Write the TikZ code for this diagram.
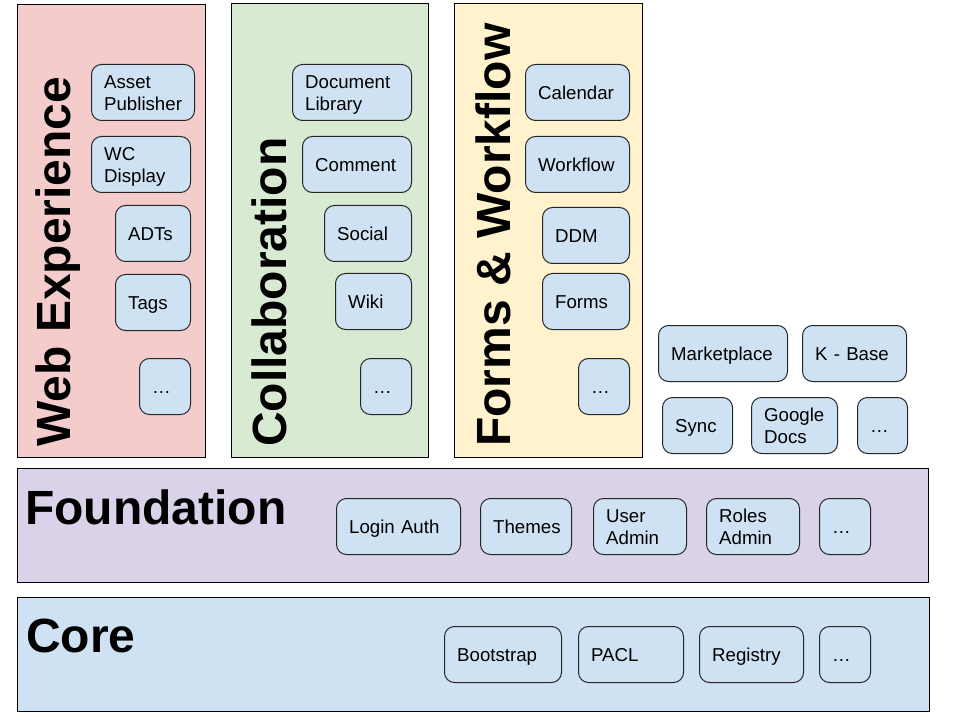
\documentclass[tikz,border=0pt]{standalone}
\usepackage{fontspec}
\setmainfont{Liberation Sans}
\usetikzlibrary{positioning}

\definecolor{webred}{HTML}{F4CCCC}
\definecolor{collgreen}{HTML}{D9EAD3}
\definecolor{formyellow}{HTML}{FFF2CC}
\definecolor{foundpurple}{HTML}{D9D2E9}
\definecolor{coreblue}{HTML}{CFE2F3}

\begin{document}
\begin{tikzpicture}[x=0.75pt,y=-0.75pt,
panel/.style={draw=black, line width=0.75pt},
title/.style={anchor=base west, inner sep=0pt,
  font=\fontsize{36}{40}\selectfont\bfseries},
box/.style={draw=black!85, fill=coreblue, line width=0.75pt,
  rounded corners=7.5pt, anchor=north west, align=left,
  inner xsep=9.5pt, inner ysep=0pt, minimum height=42pt,
  font=\fontsize{14}{16.5}\selectfont,
  execute at begin node={\rule[-4pt]{0pt}{19.2pt}},
  execute at end node={\rule[-4pt]{0pt}{4pt}}},
bw/.style={text width=#1*0.75pt-19pt}]
\useasboundingbox (0,0) rectangle (960,720);
% layers
\draw[panel, fill=webred] (17,5) rectangle (205,457);
\draw[panel, fill=collgreen] (231,4) rectangle (428,457);
\draw[panel, fill=formyellow] (454,4) rectangle (642,457);
\draw[panel, fill=foundpurple] (17,468) rectangle (928,582);
\draw[panel, fill=coreblue] (17,597) rectangle (929,711);
\node[title, rotate=90] (webt) at (70,447) {Web Experience};
\node[title, rotate=90] (collt) at (286,447) {Collaboration};
\node[title, rotate=90] (formt) at (510,447) {Forms \& Workflow};
\node[title] (foundt) at (25,524) {Foundation};
\node[title] (coret) at (26,652) {Core};
% web experience
\node[box, bw=103] (ap) at (91,64) {Asset\\Publisher};
\node[box, bw=99] (wc) at (91,136) {WC\\Display};
\node[box, bw=75] (adt) at (115,205) {ADTs};
\node[box, bw=75] (tags) at (115,274) {Tags};
\node[box, bw=51] (wdots) at (139,358) {…};
% collaboration
\node[box, bw=119] (dl) at (292,64) {Document\\Library};
\node[box, bw=109] (comment) at (302,136) {Comment};
\node[box, bw=87] (social) at (324,205) {Social};
\node[box, bw=76] (wiki) at (335,273) {Wiki};
\node[box, bw=51] (cdots) at (360,358) {…};
% forms & workflow
\node[box, bw=104] (cal) at (525,64) {Calendar};
\node[box, bw=104] (wf) at (525,136) {Workflow};
\node[box, bw=87] (ddm) at (542,207) {DDM};
\node[box, bw=87] (forms) at (542,273) {Forms};
\node[box, bw=51] (fdots) at (578,358) {…};
% others
\node[box, bw=129] (mkt) at (658,325) {Marketplace};
\node[box, bw=104] (kbase) at (802,325) {K - Base};
\node[box, bw=70] (sync) at (662,397) {Sync};
\node[box, bw=86] (gdocs) at (751,397) {Google\\Docs};
\node[box, bw=50] (odots) at (857,397) {…};
% foundation
\node[box, bw=124] (login) at (336,498) {Login Auth};
\node[box, bw=91] (themes) at (480,498) {Themes};
\node[box, bw=93] (uadmin) at (593,498) {User\\Admin};
\node[box, bw=93] (radmin) at (706,498) {Roles\\Admin};
\node[box, bw=51] (ndots) at (819,498) {…};
% core
\node[box, bw=117] (boot) at (444,626) {Bootstrap};
\node[box, bw=105] (pacl) at (578,626) {PACL};
\node[box, bw=104] (reg) at (699,626) {Registry};
\node[box, bw=51] (kdots) at (819,626) {…};
\end{tikzpicture}
\end{document}
